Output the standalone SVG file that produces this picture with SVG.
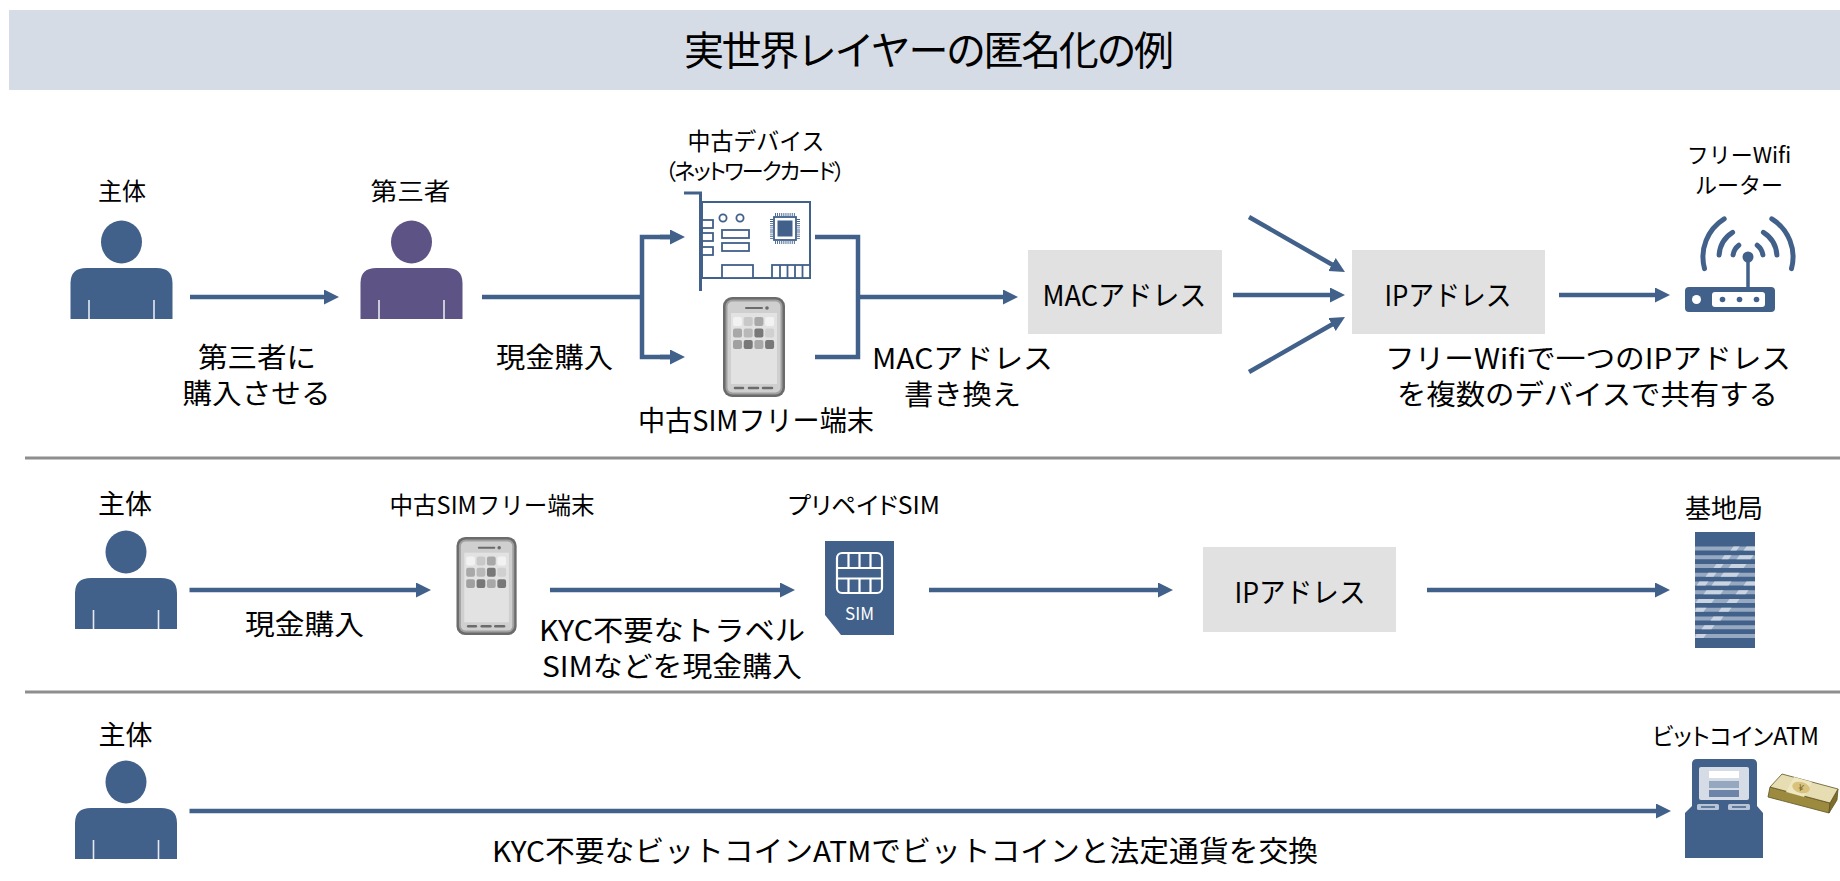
<svg xmlns="http://www.w3.org/2000/svg" width="1840" height="881" viewBox="0 0 1840 881">
  <style>
    .t { font-family: "Noto Sans CJK JP", "Noto Sans", sans-serif; fill: #000; text-anchor: middle; }
    .p { font-feature-settings: "palt"; }
    .s22 { font-size: 22px; }
    .s24 { font-size: 24px; }
    .s26 { font-size: 26px; }
    .s27 { font-size: 27px; }
    .s28 { font-size: 28px; }
    .title { font-size: 40px; }
    .conn { stroke: #41608A; stroke-width: 4.5; fill: none; }
    .arr { marker-end: url(#ah); }
    .box { fill: #E1E1E1; }
    .sep { stroke: #8E8E8E; stroke-width: 3; }
    .nc { fill: #fff; stroke: #41608A; stroke-width: 1.8; }
    .leg { stroke: #E6EAF0; stroke-width: 1.6; }
    .wave { fill: none; stroke: #41608A; stroke-width: 5; stroke-linecap: round; }
  </style>
  <defs>
    <marker id="ah" markerUnits="userSpaceOnUse" markerWidth="16" markerHeight="16" refX="5" refY="7.5" orient="auto">
      <path d="M0,0 L15,7.5 L0,15 Z" fill="#41608A"/>
    </marker>
    <!-- person figure: origin = body top centre -->
    <g id="person">
      <ellipse cx="0" cy="-26" rx="20.5" ry="21.5"/>
      <path d="M-51,51 V15 Q-51,0 -35,0 H35 Q51,0 51,15 V51 Z"/>
      <line class="leg" x1="-32.5" y1="32" x2="-32.5" y2="51"/>
      <line class="leg" x1="32.5" y1="32" x2="32.5" y2="51"/>
    </g>
    <!-- smartphone: 62 x 100 -->
    <g id="phone">
      <rect x="0" y="0" width="62" height="100" rx="9" fill="#6B6B6B"/>
      <rect x="2.5" y="2.5" width="57" height="95" rx="7" fill="#A0A0A0"/>
      <rect x="4.5" y="4.5" width="53" height="91" rx="5" fill="#CFCFCF"/>
      <rect x="8" y="16" width="46" height="71" fill="#E2E2E2"/>
      <line x1="23" y1="11" x2="39" y2="11" stroke="#6B6B6B" stroke-width="2" stroke-linecap="round"/>
      <circle cx="44" cy="11" r="1.8" fill="#6B6B6B"/>
      <rect x="10" y="20" width="9" height="9" rx="2" fill="#F2F2F2"/>
      <rect x="20.7" y="20" width="9" height="9" rx="2" fill="#C8C8C8"/>
      <rect x="31.4" y="20" width="9" height="9" rx="2" fill="#A8A8A8"/>
      <rect x="42.1" y="20" width="9" height="9" rx="2" fill="#F2F2F2"/>
      <rect x="10" y="31.5" width="9" height="9" rx="2" fill="#A8A8A8"/>
      <rect x="20.7" y="31.5" width="9" height="9" rx="2" fill="#B8B8B8"/>
      <rect x="31.4" y="31.5" width="9" height="9" rx="2" fill="#787878"/>
      <rect x="42.1" y="31.5" width="9" height="9" rx="2" fill="#D0D0D0"/>
      <rect x="10" y="43" width="9" height="9" rx="2" fill="#A0A0A0"/>
      <rect x="20.7" y="43" width="9" height="9" rx="2" fill="#787878"/>
      <rect x="31.4" y="43" width="9" height="9" rx="2" fill="#A8A8A8"/>
      <rect x="42.1" y="43" width="9" height="9" rx="2" fill="#787878"/>
      <g stroke="#6B6B6B" stroke-width="2.5" stroke-linecap="round">
        <line x1="12" y1="91" x2="20" y2="91"/>
        <line x1="26" y1="91" x2="35" y2="91"/>
        <line x1="40" y1="91" x2="49" y2="91"/>
      </g>
    </g>
  </defs>

  <rect width="1840" height="881" fill="#fff"/>

  <!-- banner -->
  <g id="banner">
    <rect x="9" y="10" width="1831" height="80" fill="#D6DCE5"/>
    <text class="t title" x="929" y="65" textLength="490">実世界レイヤーの匿名化の例</text>
  </g>

  <!-- row separators -->
  <g id="separators">
    <line class="sep" x1="25" y1="458" x2="1840" y2="458"/>
    <line class="sep" x1="25" y1="692" x2="1840" y2="692"/>
  </g>

  <!-- ===== row 1 ===== -->
  <g id="r1-subject">
    <text class="t s24" x="122" y="200">主体</text>
    <use href="#person" x="121.5" y="268" fill="#41608A"/>
  </g>
  <g id="r1-third-party">
    <text class="t s24" x="410.5" y="200" textLength="80" lengthAdjust="spacingAndGlyphs">第三者</text>
    <use href="#person" x="411.5" y="268" fill="#5D5384"/>
  </g>
  <g id="r1-nic">
    <text class="t s24" x="756" y="150" textLength="137" lengthAdjust="spacingAndGlyphs">中古デバイス</text>
    <text class="t p s22" x="755" y="179" textLength="180">（ネットワークカード）</text>
    <path d="M684,193 H700.5 V291" fill="none" stroke="#41608A" stroke-width="3"/>
    <rect x="702" y="202" width="108" height="76" fill="#fff" stroke="#41608A" stroke-width="2"/>
    <circle cx="723" cy="218" r="3.6" fill="none" stroke="#41608A" stroke-width="1.8"/>
    <circle cx="740" cy="218" r="3.6" fill="none" stroke="#41608A" stroke-width="1.8"/>
    <rect class="nc" x="702" y="220" width="11" height="8"/>
    <rect class="nc" x="702" y="233" width="11" height="8"/>
    <rect class="nc" x="702" y="247" width="11" height="8"/>
    <rect class="nc" x="722" y="230" width="27" height="8"/>
    <rect class="nc" x="722" y="243" width="27" height="8"/>
    <g stroke="#41608A" stroke-width="3" stroke-dasharray="0.9 1.2">
      <line x1="775" y1="214.5" x2="796" y2="214.5"/>
      <line x1="775" y1="242.5" x2="796" y2="242.5"/>
      <line x1="771.5" y1="219" x2="771.5" y2="239"/>
      <line x1="798.5" y1="219" x2="798.5" y2="239"/>
    </g>
    <rect class="nc" x="774" y="217" width="22" height="23"/>
    <rect x="777.5" y="220.5" width="15" height="16" fill="#41608A"/>
    <rect class="nc" x="722" y="265" width="31" height="13"/>
    <rect class="nc" x="772" y="265" width="38" height="13"/>
    <g stroke="#41608A" stroke-width="1.8">
      <line x1="780" y1="265" x2="780" y2="278"/>
      <line x1="787.5" y1="265" x2="787.5" y2="278"/>
      <line x1="795" y1="265" x2="795" y2="278"/>
      <line x1="802.5" y1="265" x2="802.5" y2="278"/>
    </g>
  </g>
  <g id="r1-phone">
    <use href="#phone" x="723" y="297"/>
    <text class="t s28" x="756" y="431" textLength="236" lengthAdjust="spacingAndGlyphs">中古SIMフリー端末</text>
  </g>
  <g id="r1-mac">
    <rect class="box" x="1028" y="250" width="194" height="84"/>
    <text class="t s28" x="1124.5" y="306" textLength="164" lengthAdjust="spacingAndGlyphs">MACアドレス</text>
  </g>
  <g id="r1-ip">
    <rect class="box" x="1352" y="250" width="193" height="84"/>
    <text class="t s28" x="1448" y="306" textLength="127" lengthAdjust="spacingAndGlyphs">IPアドレス</text>
  </g>
  <g id="r1-router">
    <text class="t s22" x="1739" y="163">フリーWifi</text>
    <text class="t s22" x="1739" y="193">ルーター</text>
    <path class="wave" d="M1704.5,268.6 A45,45 0 0 1 1724.2,218.8"/>
    <path class="wave" d="M1719.1,255 A29,29 0 0 1 1732.6,232.4"/>
    <path class="wave" d="M1733.1,254.9 A15,15 0 0 1 1738.8,245.2"/>
    <path class="wave" d="M1771.8,218.8 A45,45 0 0 1 1791.5,268.6"/>
    <path class="wave" d="M1763.4,232.4 A29,29 0 0 1 1776.9,255"/>
    <path class="wave" d="M1757.2,245.2 A15,15 0 0 1 1762.9,254.9"/>
    <line x1="1748" y1="257" x2="1748" y2="288" stroke="#41608A" stroke-width="3.5"/>
    <circle cx="1748" cy="257" r="5.5" fill="#41608A"/>
    <rect x="1685" y="287" width="90" height="25" rx="4" fill="#41608A"/>
    <rect x="1712" y="292" width="53" height="15" rx="3" fill="#fff"/>
    <circle cx="1696.5" cy="299.5" r="4.5" fill="#fff"/>
    <circle cx="1722.5" cy="299.5" r="2.8" fill="#41608A"/>
    <circle cx="1739.5" cy="299.5" r="2.8" fill="#41608A"/>
    <circle cx="1756.5" cy="299.5" r="2.8" fill="#41608A"/>
  </g>

  <!-- ===== row 2 ===== -->
  <g id="r2-subject">
    <text class="t s27" x="125" y="514">主体</text>
    <use href="#person" x="126" y="578" fill="#41608A"/>
  </g>
  <g id="r2-phone">
    <text class="t s24" x="492" y="514" textLength="205" lengthAdjust="spacingAndGlyphs">中古SIMフリー端末</text>
    <use href="#phone" transform="translate(456.5,537) scale(0.97,0.98)"/>
  </g>
  <g id="r2-sim">
    <text class="t p s24" x="864" y="514" textLength="152" lengthAdjust="spacingAndGlyphs">プリペイドSIM</text>
    <path d="M825,541 H894 V635 H841 L825,615 Z" fill="#41608A"/>
    <g fill="none" stroke="#fff" stroke-width="2.2">
      <rect x="837" y="553" width="45" height="40" rx="5"/>
      <line x1="837" y1="568" x2="882" y2="568"/>
      <line x1="837" y1="578.5" x2="882" y2="578.5"/>
      <line x1="848.5" y1="553" x2="848.5" y2="568"/>
      <line x1="859.5" y1="553" x2="859.5" y2="568"/>
      <line x1="870.5" y1="553" x2="870.5" y2="568"/>
      <line x1="848.5" y1="578.5" x2="848.5" y2="593"/>
      <line x1="859.5" y1="578.5" x2="859.5" y2="593"/>
      <line x1="870.5" y1="578.5" x2="870.5" y2="593"/>
    </g>
    <text class="t" x="859.5" y="620" style="font-size:17px;fill:#fff">SIM</text>
  </g>
  <g id="r2-ip">
    <rect class="box" x="1203" y="547" width="193" height="85"/>
    <text class="t s28" x="1300" y="603" textLength="131" lengthAdjust="spacingAndGlyphs">IPアドレス</text>
  </g>
  <g id="r2-base-station">
    <text class="t s26" x="1724" y="518">基地局</text>
    <rect x="1695" y="532" width="60" height="116" fill="#41608A"/>
    <g fill="#97A9C1">
      <rect x="1695" y="546.5" width="60" height="4"/>
      <rect x="1695" y="555.25" width="60" height="4"/>
      <rect x="1695" y="564" width="60" height="4"/>
      <rect x="1695" y="572.75" width="60" height="4"/>
      <rect x="1695" y="581.5" width="60" height="4"/>
      <rect x="1695" y="590.25" width="60" height="4"/>
      <rect x="1695" y="599" width="60" height="4"/>
      <rect x="1695" y="607.75" width="60" height="4"/>
      <rect x="1695" y="616.5" width="60" height="4"/>
      <rect x="1695" y="625.25" width="60" height="4"/>
      <rect x="1695" y="634" width="60" height="4"/>
    </g>
    <g fill="#CBD5E2">
      <polygon points="1733.5,546.5 1739.5,546.5 1736.5,550.5 1730.5,550.5"/>
      <polygon points="1746.5,546.5 1755,546.5 1755,550.5 1743.5,550.5"/>
      <polygon points="1724.5,555.25 1731.5,555.25 1728.5,559.25 1721.5,559.25"/>
      <polygon points="1739.5,555.25 1753.5,555.25 1750.5,559.25 1736.5,559.25"/>
      <polygon points="1716.5,564 1723.5,564 1720.5,568 1713.5,568"/>
      <polygon points="1731.5,564 1746.5,564 1743.5,568 1728.5,568"/>
      <polygon points="1708.5,572.75 1716.5,572.75 1713.5,576.75 1705.5,576.75"/>
      <polygon points="1723.5,572.75 1739.5,572.75 1736.5,576.75 1720.5,576.75"/>
      <polygon points="1699.5,581.5 1708.5,581.5 1705.5,585.5 1696.5,585.5"/>
      <polygon points="1714.5,581.5 1731.5,581.5 1728.5,585.5 1711.5,585.5"/>
      <polygon points="1746.5,581.5 1755,581.5 1755,585.5 1743.5,585.5"/>
      <polygon points="1706.5,590.25 1723.5,590.25 1720.5,594.25 1703.5,594.25"/>
      <polygon points="1738.5,590.25 1748.5,590.25 1745.5,594.25 1735.5,594.25"/>
      <polygon points="1698.5,599 1714.5,599 1711.5,603 1695.5,603"/>
      <polygon points="1729.5,599 1739.5,599 1736.5,603 1726.5,603"/>
      <polygon points="1696.5,607.75 1706.5,607.75 1703.5,611.75 1695,611.75"/>
      <polygon points="1721.5,607.75 1731.5,607.75 1728.5,611.75 1718.5,611.75"/>
      <polygon points="1713.5,616.5 1723.5,616.5 1720.5,620.5 1710.5,620.5"/>
      <polygon points="1704.5,625.25 1714.5,625.25 1711.5,629.25 1701.5,629.25"/>
      <polygon points="1696.5,634 1706.5,634 1703.5,638 1695,638"/>
    </g>
  </g>

  <!-- ===== row 3 ===== -->
  <g id="r3-subject">
    <text class="t s27" x="125.5" y="745">主体</text>
    <use href="#person" x="126" y="808" fill="#41608A"/>
  </g>
  <g id="r3-atm">
    <text class="t p s24" x="1735.5" y="745" textLength="167" lengthAdjust="spacingAndGlyphs">ビットコインATM</text>
    <path d="M1692,812 V764 Q1692,759 1697,759 H1752 Q1757,759 1757,764 V812 Z" fill="#41608A"/>
    <path d="M1692,806 H1757 L1763,813 V858 H1685 V813 Z" fill="#41608A"/>
    <rect x="1699" y="767" width="50" height="33" rx="2" fill="#D6DCE5"/>
    <rect x="1709" y="771" width="30" height="7" fill="#fff"/>
    <rect x="1709" y="781" width="30" height="7" fill="#96A8C0"/>
    <rect x="1709" y="790" width="30" height="7" fill="#6B84A8"/>
    <rect x="1697" y="804" width="22" height="6" rx="1.5" fill="#B9C5D6"/>
    <rect x="1728" y="804" width="22" height="6" rx="1.5" fill="#B9C5D6"/>
    <line x1="1701" y1="807" x2="1715" y2="807" stroke="#41608A" stroke-width="1.5"/>
    <line x1="1732" y1="807" x2="1746" y2="807" stroke="#41608A" stroke-width="1.5"/>
  </g>
  <g id="r3-cash">
    <polygon points="1770,787 1830,803 1829,813 1768,797" fill="#9C8A3E" stroke="#5E5220" stroke-width="0.8"/>
    <polygon points="1838,789 1830,803 1829,813 1837,800" fill="#7D6E2C" stroke="#5E5220" stroke-width="0.8"/>
    <polygon points="1782,774 1838,789 1830,803 1770,787" fill="#E7DDB2" stroke="#5E5220" stroke-width="0.8"/>
    <polygon points="1794,777 1812,782 1804,797 1786,792" fill="#EFE6C2"/>
    <ellipse cx="1801" cy="787.5" rx="9" ry="5.5" fill="#D8C27C" transform="rotate(15 1801 787.5)"/>
    <text x="1801" y="791" transform="rotate(15 1801 787.5)" style="font-family:'Noto Sans CJK JP',sans-serif;font-size:9px;fill:#6E5E22;text-anchor:middle">¥</text>
  </g>

  <!-- edge labels -->
  <g id="edge-labels">
    <text class="t s28" x="257" y="368" textLength="118" lengthAdjust="spacingAndGlyphs">第三者に</text>
    <text class="t s28" x="256.5" y="404" textLength="148" lengthAdjust="spacingAndGlyphs">購入させる</text>
    <text class="t s28" x="554.5" y="368" textLength="117" lengthAdjust="spacingAndGlyphs">現金購入</text>
    <text class="t s28" x="962.5" y="369" textLength="181" lengthAdjust="spacingAndGlyphs">MACアドレス</text>
    <text class="t s28" x="962.5" y="405" textLength="117" lengthAdjust="spacingAndGlyphs">書き換え</text>
    <text class="t s28" x="1588" y="369" textLength="406" lengthAdjust="spacingAndGlyphs">フリーWifiで一つのIPアドレス</text>
    <text class="t s28" x="1587.5" y="405" textLength="381" lengthAdjust="spacingAndGlyphs">を複数のデバイスで共有する</text>
    <text class="t s28" x="304.5" y="635" textLength="119" lengthAdjust="spacingAndGlyphs">現金購入</text>
    <text class="t s28" x="672" y="641" textLength="266" lengthAdjust="spacingAndGlyphs">KYC不要なトラベル</text>
    <text class="t s28" x="672" y="677" textLength="260" lengthAdjust="spacingAndGlyphs">SIMなどを現金購入</text>
    <text class="t" x="905" y="862" style="font-size:29px" textLength="826" lengthAdjust="spacingAndGlyphs">KYC不要なビットコインATMでビットコインと法定通貨を交換</text>
  </g>

  <!-- connectors -->
  <g id="connectors">
    <path class="conn arr" d="M190,297 H329"/>
    <path class="conn" d="M482,297 H642"/>
    <path class="conn" d="M675,237 H642 V357 H675"/>
    <path class="conn arr" d="M660,237 H675"/>
    <path class="conn arr" d="M660,357 H675"/>
    <path class="conn" d="M815,237 H858 V357 H815"/>
    <path class="conn arr" d="M858,297 H1008"/>
    <path class="conn arr" d="M1249,217 L1336.3,267"/>
    <path class="conn arr" d="M1233,295 H1335"/>
    <path class="conn arr" d="M1249,372 L1336.3,322"/>
    <path class="conn arr" d="M1559,295 H1660"/>
    <path class="conn arr" d="M189.5,590 H421"/>
    <path class="conn arr" d="M550,590 H785"/>
    <path class="conn arr" d="M929,590 H1163"/>
    <path class="conn arr" d="M1427,590 H1660"/>
    <path class="conn arr" d="M189.5,811 H1661"/>
  </g>
</svg>
